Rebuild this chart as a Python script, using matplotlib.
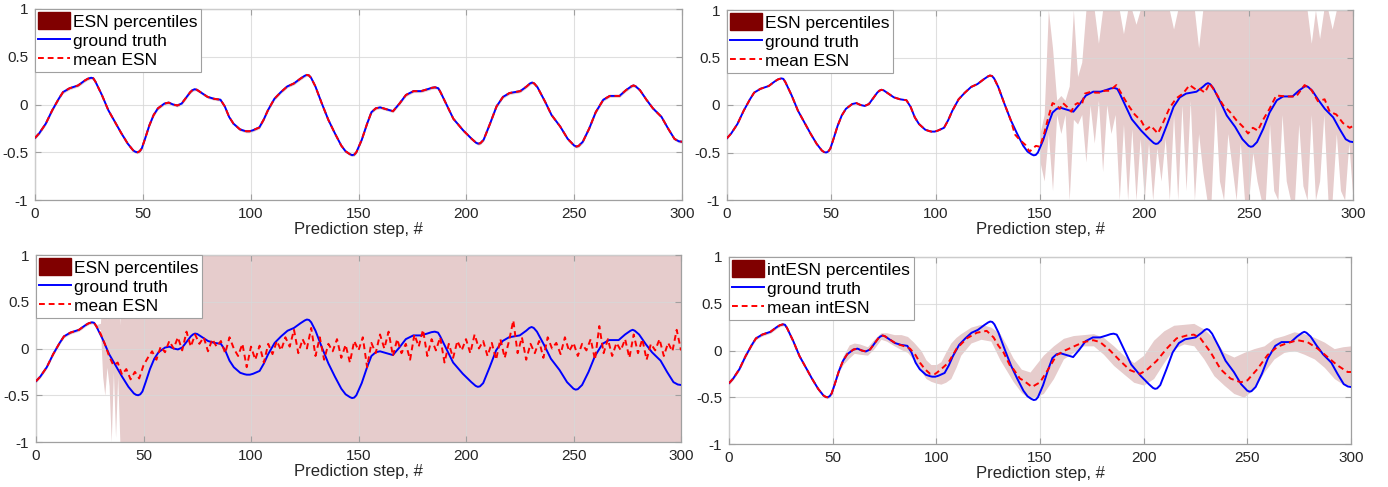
import numpy as np
import matplotlib
matplotlib.use("Agg")
import matplotlib.pyplot as plt
from matplotlib.patches import Patch
from matplotlib.lines import Line2D

plt.rcParams['font.family'] = ['Liberation Sans', 'DejaVu Sans']

# ---------------------------------------------------------------- data
# ground truth signal
truth_step = [0, 2, 5, 8, 11, 13, 16, 20, 23, 24.5, 26, 27, 28, 31, 34, 37, 40, 43, 45.5, 46.5,
              47.5, 48.5, 49.5, 51, 53, 55, 57, 60, 62, 64, 66, 68, 70, 72, 73, 74, 75, 76, 78,
              80, 83, 86, 88, 90, 92, 95, 97, 98, 99.5, 101, 104, 106, 108, 111, 114, 117, 120,
              123, 125, 126, 127, 128, 130, 133, 136, 139, 142, 144, 146, 147, 148, 149, 151.5,
              154, 156, 158, 160, 163, 166, 169, 172, 175.5, 179, 182, 184, 185.5, 187, 188,
              191, 194, 198.5, 202.5, 204.5, 205.5, 206.5, 208, 211, 214, 217, 220, 225, 228,
              229.5, 230.5, 231.5, 233, 236.5, 239.5, 243.5, 247, 250, 251, 252, 254, 257, 260,
              263.5, 266.5, 271, 274, 276.5, 277.5, 278.5, 280.5, 283.5, 286.5, 290.5, 293.5,
              296.5, 298.5, 300]
truth_val = [-0.35, -0.30, -0.20, -0.06, 0.06, 0.13, 0.17, 0.20, 0.25, 0.27, 0.28, 0.275, 0.24,
             0.10, -0.06, -0.18, -0.30, -0.41, -0.48, -0.495, -0.50, -0.49, -0.46, -0.36, -0.22,
             -0.11, -0.04, 0.01, 0.02, 0.00, -0.01, 0.01, 0.07, 0.13, 0.15, 0.16, 0.155, 0.14,
             0.11, 0.08, 0.06, 0.05, -0.02, -0.13, -0.20, -0.26, -0.275, -0.28, -0.28, -0.27,
             -0.24, -0.16, -0.06, 0.06, 0.13, 0.19, 0.22, 0.27, 0.30, 0.31, 0.305, 0.28, 0.19,
             0.01, -0.16, -0.30, -0.43, -0.49, -0.52, -0.53, -0.525, -0.50, -0.37, -0.20, -0.08,
             -0.04, -0.03, -0.05, -0.07, 0.01, 0.10, 0.14, 0.14, 0.16, 0.175, 0.18, 0.17, 0.13,
             -0.01, -0.15, -0.27, -0.36, -0.40, -0.41, -0.405, -0.37, -0.20, -0.02, 0.08, 0.12,
             0.14, 0.19, 0.22, 0.23, 0.22, 0.18, 0.03, -0.11, -0.23, -0.36, -0.43, -0.44,
             -0.435, -0.39, -0.25, -0.08, 0.05, 0.09, 0.09, 0.15, 0.19, 0.20, 0.19, 0.15, 0.05,
             -0.04, -0.13, -0.25, -0.36, -0.385, -0.39]

# panel (b): mean ESN after it drifts away from the truth (before: equal to truth)
esn_b_start = 137
esn_b_step = [138, 140, 143, 145, 148, 150, 152, 154, 156, 158, 159.5, 161, 163, 165, 166.5,
              168, 170, 171.5, 174.6, 176.5, 178.6, 181, 183.4, 186.6, 189.8, 192.2, 195.4,
              198.6, 200.8, 203.2, 206.5, 208.9, 212.1, 215.3, 218.5, 221.7, 224.9, 226.5,
              229, 231.3, 234.5, 237.7, 240.9, 244.1, 247.3, 249.7, 252, 254.4, 256.8, 260,
              263.2, 268, 272.8, 276.8, 280, 283.2, 286.4, 288.8, 292, 295.2, 298.4, 300]
esn_b_val = [-0.31, -0.36, -0.42, -0.49, -0.43, -0.44, -0.30, -0.13, 0.02, 0.00, -0.04, 0.02,
             -0.02, -0.07, 0.00, 0.02, 0.00, 0.12, 0.14, 0.13, 0.13, 0.15, 0.15, 0.21, 0.09,
             0.00, -0.10, -0.17, -0.26, -0.22, -0.30, -0.19, -0.03, 0.07, 0.12, 0.21, 0.16,
             0.17, 0.13, 0.23, 0.12, 0.00, -0.07, -0.16, -0.23, -0.30, -0.24, -0.27, -0.16,
             -0.04, 0.10, 0.09, 0.09, 0.21, 0.16, 0.04, 0.06, -0.07, -0.10, -0.19, -0.24, -0.22]

# panel (b): percentile band (steps 150, 152, ..., 300)
band_b_first = 150
band_b_upper = [-0.30, -0.10, 1.00, 0.60, 0.05, 0.10, 0.05, 0.20, 1.00, 0.30, 0.45, 1.00, 1.00,
                1.00, 0.65, 1.00, 1.00, 1.00, 1.00, 1.00, 0.75, 1.00, 1.00, 0.85, 1.00, 1.00,
                1.00, 1.00, 1.00, 1.00, 1.00, 1.00, 0.80, 1.00, 1.00, 1.00, 1.00, 1.00, 0.60,
                1.00, 1.00, 1.00, 1.00, 1.00, 1.00, 1.00, 1.00, 1.00, 1.00, 1.00, 1.00, 1.00,
                1.00, 1.00, 1.00, 1.00, 1.00, 1.00, 1.00, 1.00, 1.00, 1.00, 1.00, 1.00, 1.00,
                0.65, 1.00, 0.70, 1.00, 1.00, 0.80, 1.00, 1.00, 1.00, 1.00, 1.00]
band_b_lower = [-0.60, -0.80, -0.30, -0.90, -0.10, -0.30, -0.10, -1.00, -0.15, -0.20, -0.10,
                -0.60, 0.00, -0.40, 0.05, -0.70, 0.00, -0.30, -0.10, -1.00, -0.20, -1.00, -0.25,
                -1.00, -0.35, -1.00, -0.40, -1.00, -0.45, -0.80, -0.35, -1.00, -0.10, -1.00,
                0.00, -0.90, 0.05, -1.00, -0.30, -0.70, -1.00, -1.00, 0.00, -0.80, -1.00, -0.30,
                -0.65, -1.00, -0.40, -1.00, -1.00, -0.50, -0.80, -1.00, -1.00, -0.20, -0.90,
                -1.00, -0.10, -0.80, -1.00, -1.00, -0.20, -0.85, -1.00, -0.10, -1.00, -0.80,
                -0.10, -1.00, -1.00, -0.30, -0.90, -1.00, -0.40, -1.00]

# panel (c): mean ESN, equal to truth before step 28, then every 2 steps
esn_c_first = 28
esn_c_val = [0.24, 0.16, 0.05, -0.08, -0.18, -0.15, -0.28, -0.22, -0.33, -0.25,
             -0.32, -0.18, -0.10, -0.03, -0.12, 0.02, -0.04, 0.08, 0.00, 0.12,
             -0.02, 0.18, 0.02, 0.15, 0.05, 0.12, -0.03, 0.10, 0.02, 0.08,
             -0.05, 0.12, 0.00, -0.08, 0.05, -0.20, 0.02, -0.12, 0.03, -0.15,
             0.05, -0.06, 0.08, -0.02, 0.12, 0.02, 0.20, -0.05, 0.10, 0.00,
             0.22, -0.08, 0.12, -0.12, 0.05, -0.03, 0.10, -0.10, 0.04, -0.15,
             0.08, -0.02, 0.12, -0.20, 0.06, -0.05, 0.15, 0.00, 0.18, -0.08,
             0.10, -0.05, 0.05, -0.12, 0.15, 0.02, 0.20, -0.08, 0.10, -0.02,
             0.12, -0.15, 0.05, -0.10, 0.08, -0.02, 0.10, -0.05, 0.15, 0.00,
             0.08, -0.08, 0.06, -0.12, 0.10, -0.10, 0.08, 0.30, -0.05, 0.12,
             -0.12, 0.05, -0.05, 0.08, -0.10, 0.12, 0.00, 0.06, -0.06, 0.12,
             -0.03, 0.06, -0.08, 0.05, -0.02, 0.10, -0.12, 0.24, -0.05, 0.10,
             -0.08, 0.06, -0.02, 0.10, -0.10, 0.15, -0.05, 0.10, -0.12, 0.05,
             -0.02, 0.10, -0.08, 0.06, -0.03, 0.20, -0.02]

# panel (c): percentile band right after the divergence
band_c_step = [30, 31, 32, 33, 34, 35, 36, 37, 38, 39, 40, 300]
band_c_upper = [0.27, 1.00, 1.00, 0.30, 1.00, 1.00, 1.00, 1.00, 1.00, 0.25, 1.00, 1.00]
band_c_lower = [0.20, -0.30, -0.50, -0.20, -0.40, -1.00, -0.25, -0.95, -0.30, -1.00, -1.00, -1.00]

# panel (d): mean intESN (equal to truth before step 77)
int_start = 77
int_step = [80.9, 84, 87.3, 90, 92.1, 94.5, 97, 99.5, 101.8, 105.8, 109.8, 114.7, 119.5,
            124.3, 127.6, 130, 132.4, 135.5, 137.2, 140.3, 142, 146.1, 150, 154, 158, 162,
            166, 171, 175.7, 179, 183.8, 188.6, 193.4, 198.2, 201.4, 206.3, 211.1, 215.9,
            220.7, 224.2, 227.4, 232.3, 237.1, 241.9, 246.8, 250, 254.8, 259.7, 264.5,
            269.4, 274.2, 279, 283.9, 288.7, 293.5, 298.4, 300]
int_val = [0.07, 0.05, 0.02, -0.05, -0.13, -0.20, -0.25, -0.25, -0.21, -0.13, 0.02, 0.13,
           0.19, 0.21, 0.14, 0.05, -0.02, -0.16, -0.20, -0.30, -0.32, -0.39, -0.34, -0.20,
           -0.05, 0.00, 0.04, 0.09, 0.11, 0.09, 0.00, -0.11, -0.21, -0.25, -0.21, -0.11,
           0.02, 0.13, 0.16, 0.17, 0.13, -0.02, -0.20, -0.30, -0.34, -0.32, -0.20, -0.05,
           0.04, 0.08, 0.11, 0.09, 0.02, -0.07, -0.16, -0.23, -0.23]

# panel (d): intESN percentile band (hugs the truth before step 54)
int_band_start = 54
int_band_step = [55, 58, 60.4, 63, 66.8, 70, 73.3, 76, 79.7, 83, 86.1, 89, 92.6, 95, 97.4,
                 100, 102.2, 104.5, 107, 109.5, 111.8, 116.7, 121.5, 126.3, 130.7, 134, 137,
                 141, 145.2, 151.6, 156.5, 161.3, 166.1, 171, 175.8, 180.6, 185.5, 190.3,
                 195.2, 200, 204.8, 209.7, 214.5, 219.4, 224.2, 229, 233.9, 238.7, 243.5,
                 248.4, 253.2, 258.1, 262.9, 267.7, 272.6, 277.4, 282.3, 287.1, 291.9, 296, 300]
int_band_upper = [-0.06, 0.06, 0.08, 0.07, 0.04, 0.12, 0.19, 0.19, 0.17, 0.17, 0.15, 0.09,
                  0.00, -0.10, -0.15, -0.15, -0.12, -0.02, 0.08, 0.14, 0.18, 0.25, 0.28, 0.25,
                  0.18, 0.05, -0.08, -0.20, -0.23, -0.05, 0.05, 0.13, 0.16, 0.17, 0.18, 0.14,
                  0.05, -0.05, -0.13, -0.05, 0.11, 0.21, 0.27, 0.28, 0.29, 0.23, 0.13, -0.02,
                  -0.07, -0.02, 0.02, 0.05, 0.13, 0.16, 0.20, 0.18, 0.14, 0.09, 0.02, 0.04, 0.05]
int_band_lower = [-0.15, -0.08, -0.03, -0.04, -0.05, 0.02, 0.12, 0.10, 0.05, 0.01, -0.02,
                  -0.10, -0.22, -0.30, -0.33, -0.35, -0.36, -0.34, -0.30, -0.18, -0.05, 0.08,
                  0.12, 0.10, -0.10, -0.22, -0.33, -0.45, -0.52, -0.46, -0.30, -0.09, -0.02,
                  0.05, 0.05, -0.04, -0.16, -0.25, -0.34, -0.37, -0.30, -0.13, 0.02, 0.07,
                  0.05, -0.09, -0.27, -0.37, -0.46, -0.50, -0.41, -0.23, -0.09, -0.02, 0.00,
                  -0.04, -0.09, -0.18, -0.30, -0.36, -0.37]

tight_band = 0.015          # half-width of a band while it hugs the truth

x_ticks = [0, 50, 100, 150, 200, 250, 300]
y_ticks = [-1, -0.5, 0, 0.5, 1]
y_tick_labels = ['-1', '-0.5', '0', '0.5', '1']
x_label = 'Prediction step, #'

# ---------------------------------------------------------------- assemble series
ts = np.array(truth_step, float)
tv = np.array(truth_val, float)


def head(limit):
    m = ts < limit
    return ts[m], tv[m]


def join(limit, steps, vals):
    hs, hv = head(limit)
    return np.concatenate([hs, steps]), np.concatenate([hv, vals])


esn_b_x, esn_b_y = join(esn_b_start, np.array(esn_b_step, float), np.array(esn_b_val, float))
band_b_x = band_b_first + 2 * np.arange(len(band_b_upper))

esn_c_steps = esn_c_first + 2 * np.arange(len(esn_c_val))
esn_c_x, esn_c_y = join(esn_c_first, esn_c_steps, np.array(esn_c_val, float))
hs, hv = head(band_c_step[0])
band_c_x = np.concatenate([hs, band_c_step])
band_c_up = np.concatenate([hv + tight_band, band_c_upper])
band_c_lo = np.concatenate([hv - tight_band, band_c_lower])

int_x, int_y = join(int_start, np.array(int_step, float), np.array(int_val, float))
hs, hv = head(int_band_start)
int_band_x = np.concatenate([hs, int_band_step])
int_band_up = np.concatenate([hv + tight_band, int_band_upper])
int_band_lo = np.concatenate([hv - tight_band, int_band_lower])

# ---------------------------------------------------------------- styling
BAND = '#e6cccc'
PATCH = '#800000'
BLUE = '#0000ff'
RED = '#ff0000'
EDGE = '#a0a0a0'
TXT = '#262626'
LW = 1.4
DASH = (0, (3, 2))

W, H = 1388, 487
fig = plt.figure(figsize=(W / 100, H / 100), dpi=100)


def rect(l, r, t, b):
    return [l / W, 1 - b / H, (r - l) / W, (b - t) / H]


def style(ax):
    ax.set_xlim(0, 300)
    ax.set_ylim(-1, 1)
    ax.set_xticks(x_ticks)
    ax.set_yticks(y_ticks)
    ax.set_yticklabels(y_tick_labels)
    ax.grid(True, color='#d8d8d8', linewidth=0.8, alpha=0.8)
    ax.set_axisbelow(False)
    for s in ax.spines.values():
        s.set_color(EDGE)
        s.set_linewidth(0.9)
    ax.tick_params(direction='in', length=4, width=0.8, color=EDGE, labelcolor=TXT,
                   labelsize=11, top=True, right=True, pad=5)
    ax.set_xlabel(x_label, fontsize=12, color=TXT, labelpad=1)


def legend(ax, name):
    handles = [Patch(facecolor=PATCH, edgecolor=PATCH),
               Line2D([], [], color=BLUE, lw=LW),
               Line2D([], [], color=RED, lw=LW, linestyle=DASH)]
    labels = [f'{name} percentiles', 'ground truth', f'mean {name}']
    leg = ax.legend(handles, labels, loc='upper left', fontsize=12.5, frameon=True,
                    fancybox=False, framealpha=1, edgecolor=EDGE, borderaxespad=0,
                    borderpad=0.2, labelspacing=0.12, handlelength=1.8, handletextpad=0.2,
                    handleheight=1.1)
    leg.get_frame().set_linewidth(0.8)
    leg.set_zorder(10)


axes = [fig.add_axes(rect(35, 682, 9, 200)),
        fig.add_axes(rect(727, 1353, 10, 200)),
        fig.add_axes(rect(36, 681, 255, 442)),
        fig.add_axes(rect(729, 1351, 257, 444))]

# (a) ESN following the truth closely
ax = axes[0]
ax.fill_between(ts, tv - tight_band, tv + tight_band, color=BAND, lw=0, zorder=1)
ax.plot(ts, tv, color=BLUE, lw=LW, zorder=3)
ax.plot(ts, tv, color=RED, lw=LW, linestyle=DASH, zorder=4)

# (b) ESN diverging halfway
ax = axes[1]
ax.fill_between(band_b_x, band_b_lower, band_b_upper, color=BAND, lw=0, zorder=1)
ax.plot(ts, tv, color=BLUE, lw=LW, zorder=3)
ax.plot(esn_b_x, esn_b_y, color=RED, lw=LW, linestyle=DASH, zorder=4)

# (c) ESN diverging early
ax = axes[2]
ax.fill_between(band_c_x, band_c_lo, band_c_up, color=BAND, lw=0, zorder=1)
ax.plot(ts, tv, color=BLUE, lw=LW, zorder=3)
ax.plot(esn_c_x, esn_c_y, color=RED, lw=LW, linestyle=DASH, zorder=4)

# (d) intESN
ax = axes[3]
ax.fill_between(int_band_x, int_band_lo, int_band_up, color=BAND, lw=0, zorder=1)
ax.plot(ts, tv, color=BLUE, lw=LW, zorder=3)
ax.plot(int_x, int_y, color=RED, lw=LW, linestyle=DASH, zorder=4)

for ax, name in zip(axes, ['ESN', 'ESN', 'ESN', 'intESN']):
    style(ax)
    legend(ax, name)

fig.savefig('out.png', dpi=100)
